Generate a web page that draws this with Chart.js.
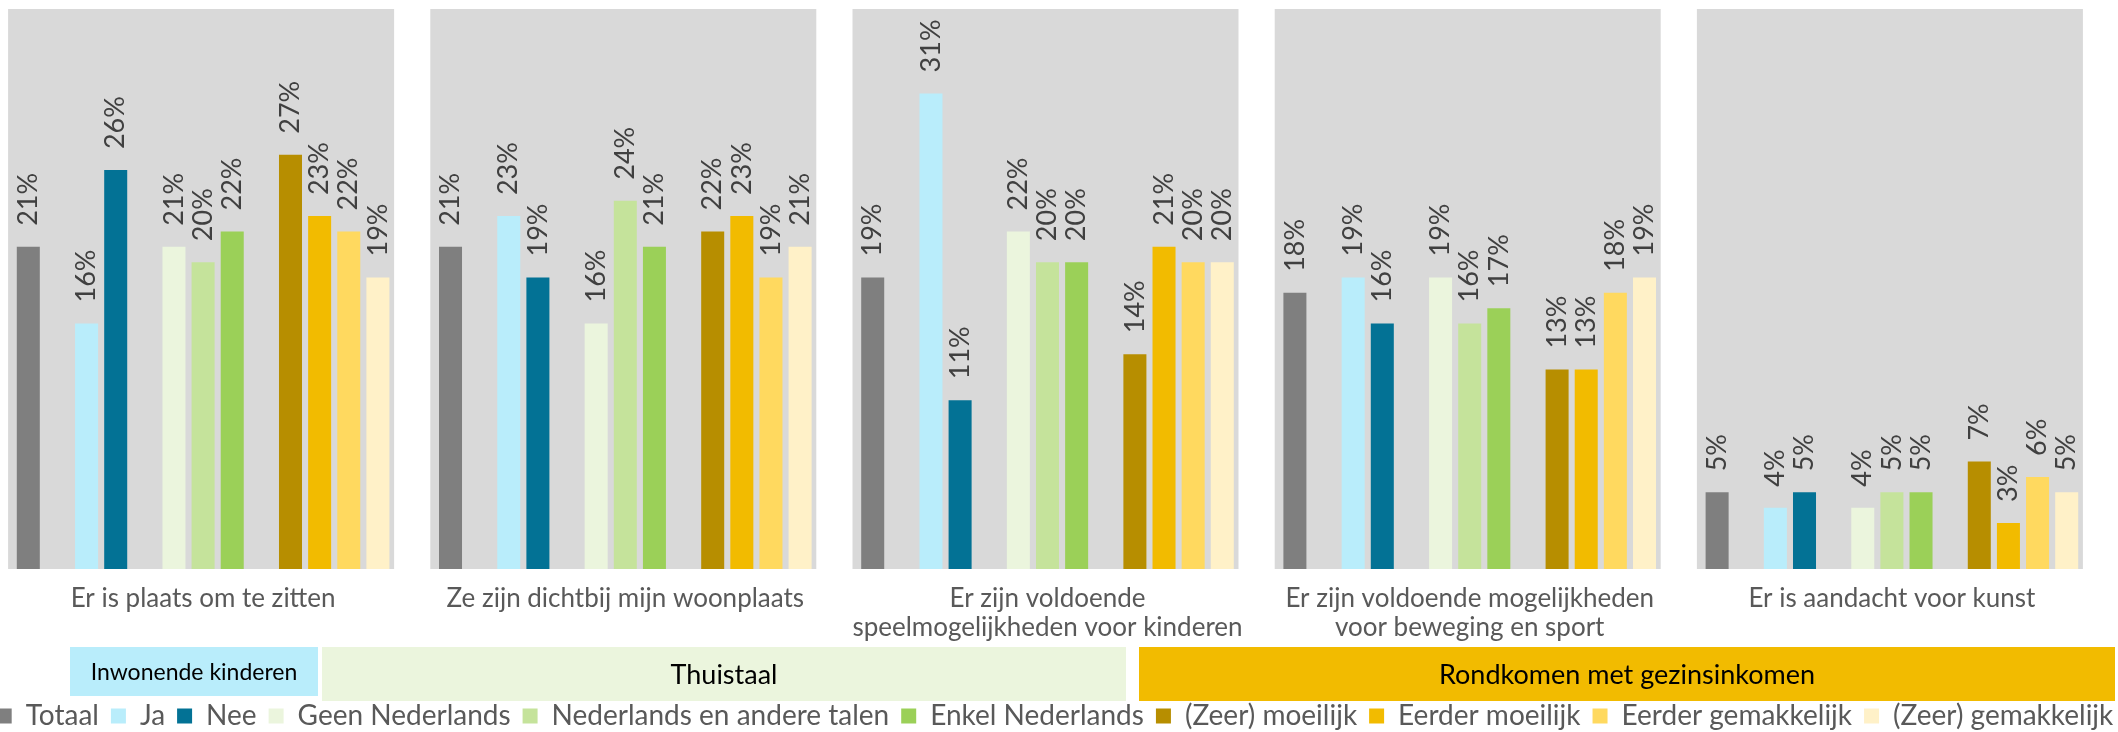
<!DOCTYPE html>
<html>
<head>
<meta charset="utf-8">
<title>Speelpleinen en parken</title>
<script src="https://cdn.jsdelivr.net/npm/chart.js@4.4.0/dist/chart.umd.min.js"></script>
<style>
  html, body { margin: 0; padding: 0; background: #fff; overflow: hidden; }
  /* canvas is wider than the page so the legend fits on one row */
  #wrap { position: absolute; left: -45px; top: 0; width: 2200px; height: 740px; }
</style>
</head>
<body>
<div id="wrap"><canvas id="chart"></canvas></div>
<script>
// Stellingen (x-as)
const categories = [
    'Er is plaats om te zitten',
    'Ze zijn dichtbij mijn woonplaats',
    ['Er zijn voldoende', 'speelmogelijkheden voor kinderen'],
    ['Er zijn voldoende mogelijkheden', 'voor beweging en sport'],
    'Er is aandacht voor kunst'
];

// Percentages per groep
const totaal            = [21, 21, 19, 18, 5];
const ja                = [16, 23, 31, 19, 4];
const nee               = [26, 19, 11, 16, 5];
const geenNederlands    = [21, 16, 22, 19, 4];
const nlEnAndereTalen   = [20, 24, 20, 16, 5];
const enkelNederlands   = [22, 21, 20, 17, 5];
const zeerMoeilijk      = [27, 22, 14, 13, 7];
const eerderMoeilijk    = [23, 23, 21, 13, 3];
const eerderGemakkelijk = [22, 19, 20, 18, 6];
const zeerGemakkelijk   = [19, 21, 20, 19, 5];

const groupHeaders = ['Inwonende kinderen', 'Thuistaal', 'Rondkomen met gezinsinkomen'];

// layout (canvas pixels; canvas starts 45px left of the page)
const CHART_BOTTOM = 569;
const SIDE_LEFT = 37, SIDE_RIGHT = 52;
const PANEL_LEFT = 195, PANEL_RIGHT = 191;
const LABEL_GAP = 21;
const headerBoxes = [
    { x: 115,  y: 647, w: 248, h: 49, color: '#b9edfb', size: 23 },
    { x: 367,  y: 647, w: 804, h: 54, color: '#ebf5dd', size: 27 },
    { x: 1184, y: 647, w: 976, h: 54, color: '#f2bb00', size: 27 }
];

function series(label, data, color) {
    return { label: label, data: data, backgroundColor: color, borderWidth: 0 };
}
function spacer() {
    return { label: '', data: [null, null, null, null, null], spacer: true };
}

const datasets = [
    series('Totaal', totaal, '#7f7f7f'),
    spacer(),
    series('Ja', ja, '#b9edfb'),
    series('Nee', nee, '#037295'),
    spacer(),
    series('Geen Nederlands', geenNederlands, '#ebf5dd'),
    series('Nederlands en andere talen', nlEnAndereTalen, '#c5e39b'),
    series('Enkel Nederlands', enkelNederlands, '#9bd058'),
    spacer(),
    series('(Zeer) moeilijk', zeerMoeilijk, '#b78e00'),
    series('Eerder moeilijk', eerderMoeilijk, '#f2bb00'),
    series('Eerder gemakkelijk', eerderGemakkelijk, '#ffd95f'),
    series('(Zeer) gemakkelijk', zeerGemakkelijk, '#fff1c8')
];

// grey background behind each statement
const panelBackground = {
    id: 'panelBackground',
    beforeDatasetsDraw(chart) {
        const ctx = chart.ctx, x = chart.scales.x;
        const { top, bottom } = chart.chartArea;
        ctx.save();
        ctx.fillStyle = '#d9d9d9';
        categories.forEach((c, i) => {
            const cx = x.getPixelForValue(i);
            ctx.fillRect(cx - PANEL_LEFT, top, PANEL_LEFT + PANEL_RIGHT, bottom - top);
        });
        ctx.restore();
    }
};

// vertical value labels above the bars
const valueLabels = {
    id: 'valueLabels',
    afterDatasetsDraw(chart) {
        const ctx = chart.ctx;
        ctx.save();
        ctx.fillStyle = '#404040';
        ctx.font = '27px Lato';
        ctx.textAlign = 'left';
        ctx.textBaseline = 'middle';
        chart.data.datasets.forEach((ds, di) => {
            if (ds.spacer) return;
            chart.getDatasetMeta(di).data.forEach((bar, i) => {
                ctx.save();
                ctx.translate(bar.x, bar.y - LABEL_GAP);
                ctx.rotate(-Math.PI / 2);
                ctx.fillText(ds.data[i] + '%', 0, 0);
                ctx.restore();
            });
        });
        ctx.restore();
    }
};

// coloured group headers between the axis labels and the legend
const groupBoxes = {
    id: 'groupBoxes',
    afterDraw(chart) {
        const ctx = chart.ctx;
        ctx.save();
        ctx.textAlign = 'center';
        ctx.textBaseline = 'middle';
        headerBoxes.forEach((b, i) => {
            ctx.fillStyle = b.color;
            ctx.fillRect(b.x, b.y, b.w, b.h);
            ctx.fillStyle = '#000';
            ctx.font = b.size + 'px Lato';
            ctx.fillText(groupHeaders[i], b.x + b.w / 2, b.y + b.h / 2 + 1);
        });
        ctx.restore();
    }
};

// invisible side axes keep the bars inside while the legend gets the full width
const hiddenAxis = (position, width) => ({
    position: position,
    min: 0,
    max: 36.5,
    grid: { display: false },
    border: { display: false },
    ticks: { display: false },
    afterFit(scale) { scale.width = width; }
});

Chart.defaults.font.family = 'Lato';

new Chart(document.getElementById('chart'), {
    type: 'bar',
    data: { labels: categories, datasets: datasets },
    options: {
        responsive: true,
        maintainAspectRatio: false,
        animation: false,
        layout: { padding: { top: 9, right: 0, left: 0, bottom: 0 } },
        datasets: { bar: { categoryPercentage: 0.897, barPercentage: 0.79 } },
        scales: {
            x: {
                grid: { display: false },
                border: { display: false },
                ticks: {
                    color: '#595959',
                    font: { size: 26, lineHeight: 1.08 },
                    padding: 8,
                    maxRotation: 0,
                    autoSkip: false
                },
                afterFit(scale) {
                    const c = scale.chart;
                    const legendH = (c.legend && c.legend.height) || 52;
                    scale.height = c.height - legendH - CHART_BOTTOM;
                }
            },
            y: hiddenAxis('left', SIDE_LEFT),
            yRight: hiddenAxis('right', SIDE_RIGHT)
        },
        plugins: {
            legend: {
                position: 'bottom',
                labels: {
                    color: '#595959',
                    font: { size: 28 },
                    boxWidth: 15,
                    boxHeight: 15,
                    padding: 12,
                    filter: item => item.text !== ''
                }
            },
            tooltip: { enabled: false }
        }
    },
    plugins: [panelBackground, valueLabels, groupBoxes]
});
</script>
</body>
</html>
